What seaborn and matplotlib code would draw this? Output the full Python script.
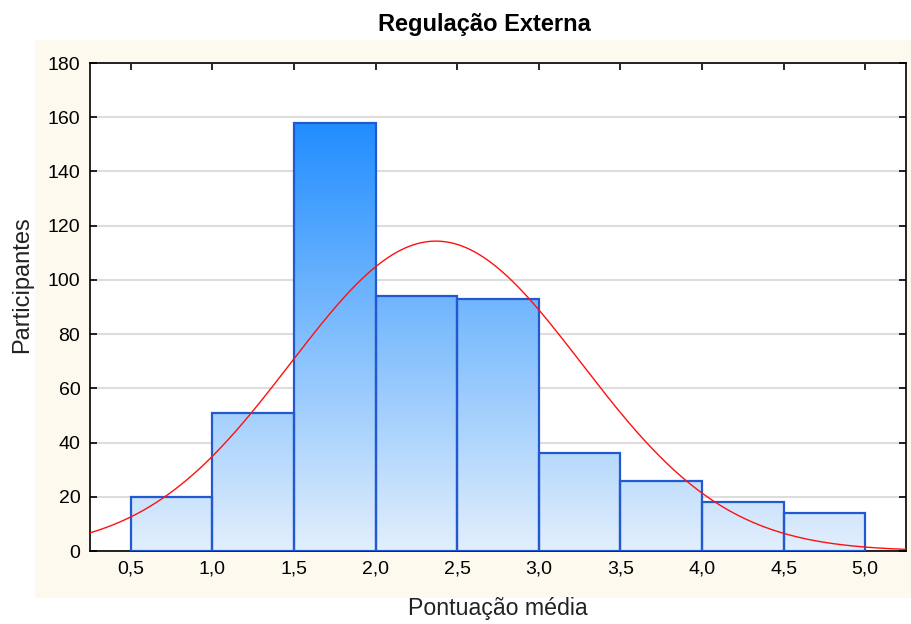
import numpy as np
import pandas as pd
import matplotlib
matplotlib.use("Agg")
import matplotlib.pyplot as plt
import seaborn as sns
from matplotlib.patches import Rectangle
from matplotlib.colors import LinearSegmentedColormap

# ---- data ----
bin_edges = [0.5, 1.0, 1.5, 2.0, 2.5, 3.0, 3.5, 4.0, 4.5, 5.0]
bin_centers = [0.75, 1.25, 1.75, 2.25, 2.75, 3.25, 3.75, 4.25, 4.75]
counts = [20, 51, 158, 94, 93, 36, 26, 18, 14]
x_ticks = [0.5, 1.0, 1.5, 2.0, 2.5, 3.0, 3.5, 4.0, 4.5, 5.0]
x_tick_labels = ["0,5", "1,0", "1,5", "2,0", "2,5", "3,0", "3,5", "4,0", "4,5", "5,0"]
y_ticks = [0, 20, 40, 60, 80, 100, 120, 140, 160, 180]
fit_mean = 2.37
fit_sd = 0.89
n_total = sum(counts)
bin_width = 0.5

sns.set_theme(style="white")
plt.rcParams['font.family'] = ['Liberation Sans', 'DejaVu Sans']

fig = plt.figure(figsize=(9.11, 6.24), dpi=100)
fig.patch.set_facecolor("white")
# cream panel
cream = Rectangle((35/911, 1-598/624), 1-35/911, (598-40)/624,
                  transform=fig.transFigure, facecolor="#FEF9EE",
                  edgecolor="none", zorder=-10)
fig.add_artist(cream)
ax = fig.add_axes([90/911, 1-551/624, (906-90)/911, (551-63)/624])
ax.set_zorder(1)
ax.set_facecolor("white")

df = pd.DataFrame({"x": bin_centers, "w": counts})
sns.histplot(data=df, x="x", weights="w", bins=bin_edges, ax=ax,
             stat="count", element="bars", fill=True,
             facecolor="none", edgecolor="#2259D0", linewidth=1.6, zorder=3)

cmap = LinearSegmentedColormap.from_list("g", ["#E2EFFC", "#1E8CFF"])
grad = np.linspace(0, 1, 256).reshape(-1, 1)
for p in list(ax.patches):
    im = ax.imshow(grad, cmap=cmap, origin="lower", aspect="auto",
                   extent=[0.25, 5.25, 0, 160], zorder=2, vmin=0, vmax=1)
    im.set_clip_path(p)

# normal fit curve
xs = np.linspace(0.25, 5.25, 400)
ys = n_total * bin_width / (fit_sd * np.sqrt(2*np.pi)) * np.exp(-0.5*((xs-fit_mean)/fit_sd)**2)
sns.lineplot(x=xs, y=ys, ax=ax, color="#FF1010", linewidth=1.0, zorder=4)

ax.set_xlim(0.25, 5.25)
ax.set_ylim(0, 180)
ax.set_yticks(y_ticks)
ax.set_xticks(x_ticks)
ax.set_xticklabels(x_tick_labels)
ax.yaxis.grid(True, color="#DDDDDD", linewidth=1.5, zorder=1)
ax.set_axisbelow(True)
ax.tick_params(direction="in", length=5, width=1.2, colors="black",
               labelsize=14, top=True, right=True, bottom=True, left=True, pad=7)
for s in ax.spines.values():
    s.set_color("black"); s.set_linewidth(1.2)

ax.set_xlabel("")
ax.set_ylabel("")
fig.text(498/911, 1-608/624, "Pontuação média", ha="center", va="center",
         fontsize=16.7, color="#222222")
fig.text(22/911, 1-285/624, "Participantes", ha="center", va="center",
         rotation=90, fontsize=17, color="#222222")
fig.text(484/911, 1-24/624, "Regulação Externa", ha="center", va="center",
         fontsize=17, fontweight="bold", color="black")

fig.savefig("out.png", dpi=100)
